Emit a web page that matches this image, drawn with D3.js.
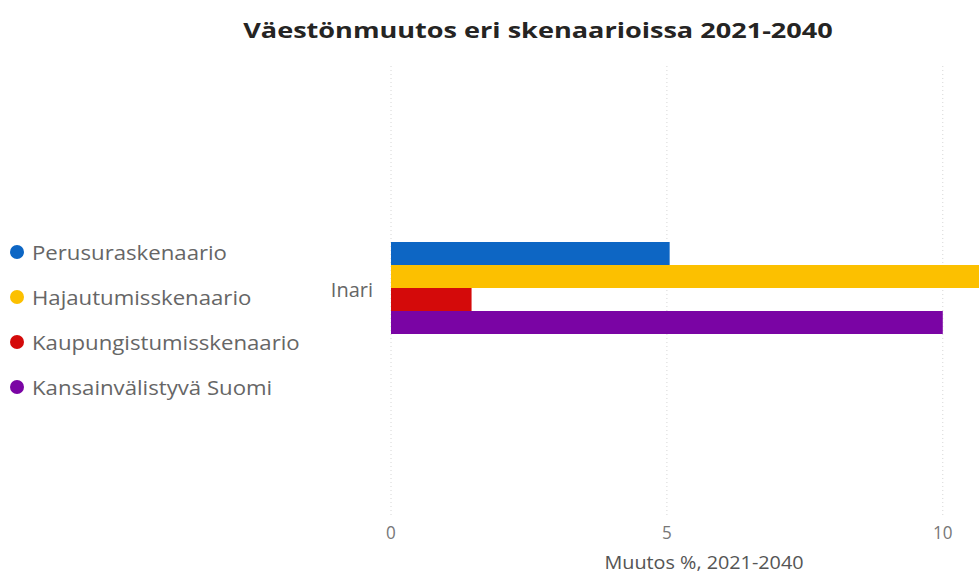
<!DOCTYPE html>
<html>
<head>
<meta charset="utf-8">
<script src="https://cdn.jsdelivr.net/npm/d3@7"></script>
<style>
  html, body { margin: 0; padding: 0; background: #fff; overflow: hidden; }
  svg { display: block; }
</style>
</head>
<body>
<svg id="chart" width="979" height="577"></svg>
<script>
// Population change by scenario, 2021-2040
const categories = ["Inari"];
const scenarios = ["Perusuraskenaario", "Hajautumisskenaario", "Kaupungistumisskenaario", "Kansainvälistyvä Suomi"];
const values = [5.05, 11.2, 1.46, 10.0];
const colors = ["#0D66C4", "#FCC000", "#D40A0A", "#7A04A4"];
const xTicks = [0, 5, 10];

const titleText = "Väestönmuutos eri skenaarioissa 2021-2040";
const axisTitle = "Muutos %, 2021-2040";

const svg = d3.select("#chart");
const font = "'Open Sans', 'Noto Sans', sans-serif";

const plot = { left: 391, right: 1009, top: 66, bottom: 515 };

const x = d3.scaleLinear().domain([0, 11.2]).range([plot.left, plot.right]);
const y = d3.scaleBand().domain(categories).range([plot.top, plot.bottom]);
// the four scenario bars sit together in the middle of the category band
const bandTop = 242, bandBottom = 334;
const yInner = d3.scaleBand().domain(scenarios).range([bandTop, bandBottom]).padding(0);

// text helper: places a label at (px, py) with a horizontal stretch factor
function label(parent, px, py, txt, size, opts = {}) {
  return parent.append("text")
    .attr("transform", `translate(${px},${py}) scale(${opts.sx || 1},1)`)
    .attr("text-anchor", opts.anchor || "start")
    .attr("font-family", font)
    .attr("font-weight", opts.weight || "normal")
    .attr("font-size", size)
    .attr("fill", opts.fill || "#555")
    .text(txt);
}

// title
label(svg, 538, 38, titleText, 21, { anchor: "middle", weight: "bold", fill: "#252423", sx: 1.29 });

// dotted vertical gridlines
svg.append("g")
  .selectAll("line")
  .data(xTicks)
  .join("line")
  .attr("x1", d => x(d)).attr("x2", d => x(d))
  .attr("y1", plot.top).attr("y2", plot.bottom)
  .attr("stroke", "#d6d6d6")
  .attr("stroke-width", 1)
  .attr("stroke-dasharray", "1,3");

// x axis tick labels
const tickG = svg.append("g");
xTicks.forEach(t => {
  label(tickG, x(t), 539, d3.format("d")(t), 18, { anchor: "middle", fill: "#777", sx: 0.95 });
});

// axis title
label(svg, 704, 569, axisTitle, 18, { anchor: "middle", fill: "#555", sx: 1.1 });

// category label
categories.forEach(c => {
  label(svg, 373, y(c) + y.bandwidth() / 2 + 6, c, 20, { anchor: "end", fill: "#666" });
});

// bars
svg.append("g")
  .selectAll("rect")
  .data(scenarios.map((s, i) => ({ s, v: values[i], c: colors[i] })))
  .join("rect")
  .attr("x", x(0))
  .attr("y", d => yInner(d.s))
  .attr("width", d => x(d.v) - x(0))
  .attr("height", yInner.bandwidth())
  .attr("fill", d => d.c);

// legend
const legend = svg.append("g").attr("transform", "translate(17, 252)");
scenarios.forEach((s, i) => {
  const g = legend.append("g").attr("transform", `translate(0, ${i * 45})`);
  g.append("circle").attr("r", 7).attr("fill", colors[i]);
  label(g, 15, 7.5, s, 20, { fill: "#666", sx: 1.11 });
});
</script>
</body>
</html>
